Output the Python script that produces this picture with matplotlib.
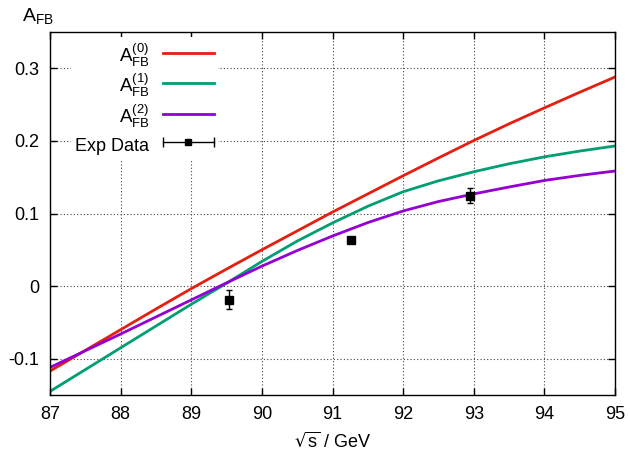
"""
Forward-backward asymmetry near the Z pole: lowest order and corrected
predictions compared with measured points.
"""

import matplotlib
matplotlib.use("Agg")
import matplotlib.pyplot as plt
from matplotlib.legend_handler import HandlerBase
from matplotlib.lines import Line2D

plt.rcParams["font.family"] = ["Liberation Sans", "DejaVu Sans"]
plt.rcParams["mathtext.default"] = "regular"
plt.rcParams["font.size"] = 13

# predictions sampled every 0.5 GeV
sqrt_s = [87.0, 87.5, 88.0, 88.5, 89.0, 89.5, 90.0, 90.5, 91.0,
          91.5, 92.0, 92.5, 93.0, 93.5, 94.0, 94.5, 95.0]
afb_0 = [-0.117, -0.0885, -0.060, -0.0315, -0.0035, 0.0235, 0.050, 0.076, 0.102,
         0.127, 0.152, 0.1765, 0.2005, 0.2235, 0.2455, 0.267, 0.288]
afb_1 = [-0.145, -0.115, -0.085, -0.055, -0.025, 0.004, 0.034, 0.062, 0.087,
         0.110, 0.130, 0.145, 0.1575, 0.1685, 0.178, 0.186, 0.193]
afb_2 = [-0.112, -0.089, -0.066, -0.0425, -0.019, 0.0045, 0.0275, 0.049, 0.069,
         0.0875, 0.1035, 0.1165, 0.127, 0.1365, 0.1455, 0.1525, 0.1585]

# measurements
exp_s = [89.54, 91.26, 92.95]
exp_afb = [-0.0185, 0.0630, 0.1245]
exp_err = [0.0128, 0.0020, 0.0107]

x_ticks = [87, 88, 89, 90, 91, 92, 93, 94, 95]
y_ticks = [-0.1, 0, 0.1, 0.2, 0.3]
y_tick_labels = ["-0.1", "0", "0.1", "0.2", "0.3"]


class KeyErrorbar(HandlerBase):
    """Key sample drawn as a horizontal bar with end caps and a point."""

    def create_artists(self, legend, orig_handle, xdescent, ydescent,
                       width, height, fontsize, trans):
        x0, x1 = -xdescent, -xdescent + width
        y = (height - ydescent) / 2
        bar = Line2D([x0, x1], [y, y], color="black", lw=1)
        caps = Line2D([x0, x1], [y, y], ls="none", marker="|",
                      ms=7, mew=1, color="black")
        mid = Line2D([(x0 + x1) / 2], [y], ls="none", marker="s",
                     ms=5, color="black")
        for a in (bar, caps, mid):
            a.set_transform(trans)
        return [bar, caps, mid]


fig = plt.figure(figsize=(6.3, 4.59), dpi=100)
ax = fig.add_axes([0.0794, 0.1394, 0.8968, 0.7909])

l0, = ax.plot(sqrt_s, afb_0, color="#e51e10", lw=2,
              label=r"$A_{FB}^{(0)}$")
l1, = ax.plot(sqrt_s, afb_1, color="#009e73", lw=2,
              label=r"$A_{FB}^{(1)}$")
l2, = ax.plot(sqrt_s, afb_2, color="#9400d3", lw=2,
              label=r"$A_{FB}^{(2)}$")
ax.errorbar(exp_s, exp_afb, yerr=exp_err, fmt="s", color="black",
            ms=5.5, elinewidth=1, capsize=2.5, capthick=1, zorder=5)

ax.set_xlim(87, 95)
ax.set_ylim(-0.15, 0.35)
ax.set_xticks(x_ticks)
ax.set_yticks(y_ticks)
ax.set_yticklabels(y_tick_labels)
ax.tick_params(direction="in", length=5, width=1, top=True, right=True,
               labelsize=13, pad=8)
for sp in ax.spines.values():
    sp.set_linewidth(1)

ax.set_axisbelow(True)
ax.grid(True, color="#444444", lw=0.8, ls=(0, (1, 2)))

ax.set_xlabel(r"$\sqrt{s}$ / GeV", fontsize=13, labelpad=6)
ax.text(-0.05, 1.03, r"$A_{FB}$", transform=ax.transAxes,
        fontsize=14, ha="left", va="baseline")

# key in the upper left, labels right-aligned ahead of their samples;
# every row gets the same height
proxy = Line2D([], [], color="black")
leg = ax.legend([l0, l1, l2, proxy],
                [l0.get_label(), l1.get_label(), l2.get_label(), "Exp Data"],
                handler_map={proxy: KeyErrorbar()},
                loc="upper left", bbox_to_anchor=(0.037, 0.986),
                markerfirst=False, frameon=True, fancybox=False,
                edgecolor="none", facecolor="white", framealpha=1,
                fontsize=13, handlelength=2.8, handletextpad=0.75,
                handleheight=1.68, labelspacing=0.17, borderpad=0.25,
                borderaxespad=0.0)
for t in leg.get_texts()[:3]:
    t.set_fontsize(13.5)
leg.set_zorder(2.4)

fig.savefig("out.png", dpi=100)
